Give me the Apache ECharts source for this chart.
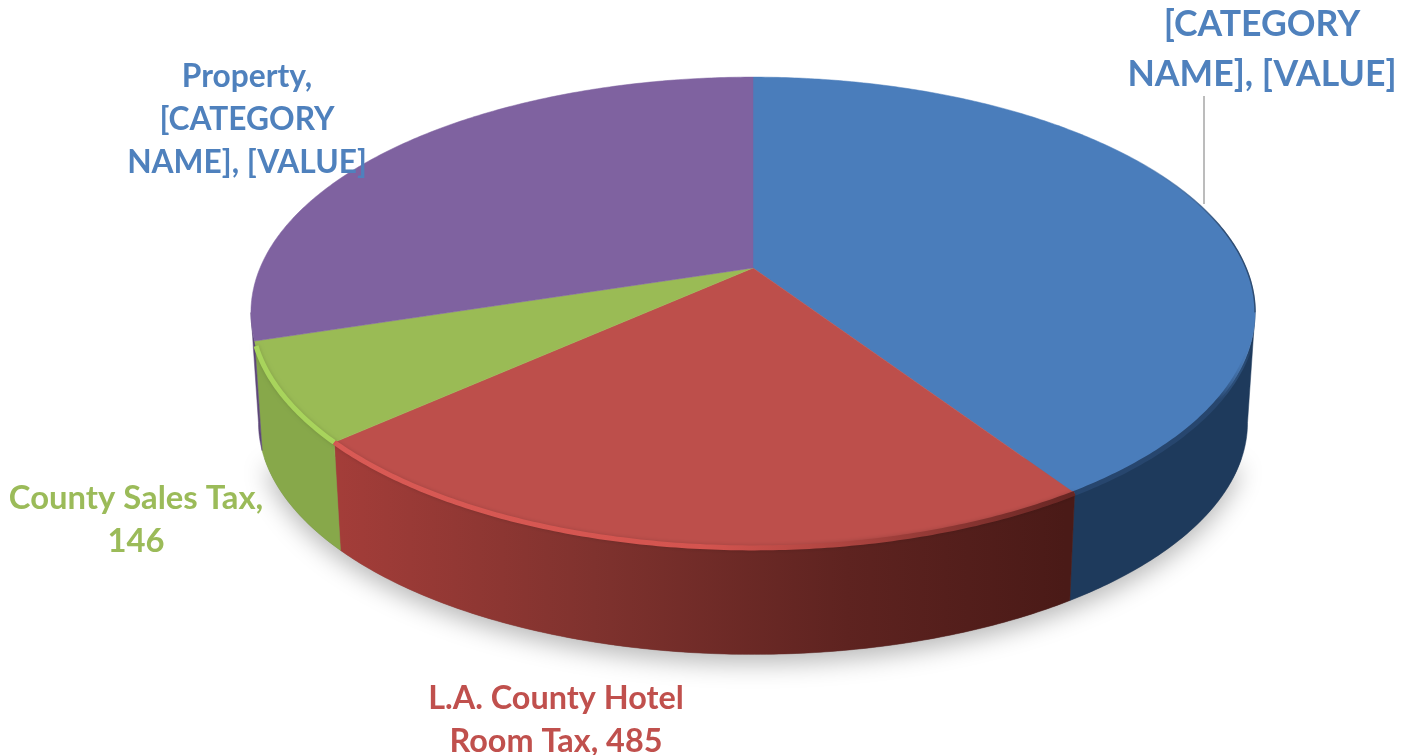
<!DOCTYPE html>
<html>
<head>
<meta charset="utf-8">
<style>
html, body { margin: 0; padding: 0; background: #fff; }
#main { width: 1401px; height: 755px; }
</style>
<script src="https://cdn.jsdelivr.net/npm/echarts@6/dist/echarts.min.js"></script>
</head>
<body>
<div id="main"></div>
<script>
// values (blue and purple)
var categories = ['[CATEGORY NAME]', 'L.A. County Hotel Room Tax', 'County Sales Tax', 'Property'];
var values = [876, 485, 146, 643];
var labelLines = [
    ['[CATEGORY', 'NAME], [VALUE]'],
    ['L.A. County Hotel', 'Room Tax, 485'],
    ['County Sales Tax,', '146'],
    ['Property,', '[CATEGORY', 'NAME], [VALUE]']
];

// colours per slice
var topColors = ['#4a7dbb', '#bd4f4b', '#9abb55', '#7f62a0'];
var labelColors = ['#4f81bd', '#c0504d', '#9bbb59', '#4f81bd'];

// layout of the tilted disc, a circle under a perspective projection
var cx = 753, cy = 268;    // where the slices meet
var scaleX = 493, scaleY = 227, persp = 0.189;
var midY = 312.5, bottomScale = 0.985, depth = 110;

var total = values.reduce(function (a, b) { return a + b; }, 0);

function sliceAngles(i) {
    var sum = 0;
    for (var k = 0; k < i; k++) sum += values[k];
    return [sum / total * Math.PI * 2, (sum + values[i]) / total * Math.PI * 2];
}

// clockwise angle from the far point of the disc -> screen
function rim(t) {
    var w = 1 + persp * Math.cos(t);
    return [cx + scaleX * Math.sin(t) / w, cy - scaleY * Math.cos(t) / w];
}
function rimBottom(t) {
    var p = rim(t);
    return [cx + (p[0] - cx) * bottomScale, midY + (p[1] - midY) * bottomScale + depth];
}
function arc(fn, a, b) {
    var pts = [];
    var n = Math.max(2, Math.ceil(Math.abs(b - a) / 0.01));
    for (var i = 0; i <= n; i++) pts.push(fn(a + (b - a) * i / n));
    return pts;
}

var nearFrom = Math.acos(-persp), nearTo = Math.PI * 2 - nearFrom;

function grad(x1, x2, stops) {
    return new echarts.graphic.LinearGradient(x1, 0, x2, 0, stops, true);
}
// fades in going down the picture, so the edge lines have no hard start
function fadeDown(y1, y2, color) {
    return new echarts.graphic.LinearGradient(0, y1, 0, y2, [
        { offset: 0, color: 'rgba(74,125,187,0)' },
        { offset: 1, color: color }
    ], true);
}
var sideFills = [
    '#1e3a5c',
    grad(340, 1065, [
        { offset: 0, color: '#a33d39' },
        { offset: 0.35, color: '#7f322e' },
        { offset: 0.7, color: '#5e2320' },
        { offset: 1, color: '#4a1a17' }
    ]),
    '#87a84a',
    '#5c4678'
];
var rimStrokes = [
    fadeDown(345, 400, '#27466e'),
    grad(340, 1070, [
        { offset: 0, color: '#d95a55' },
        { offset: 0.5, color: '#d4544f' },
        { offset: 0.75, color: '#a03f3b' },
        { offset: 1, color: '#682623' }
    ]),
    '#a8d45c',
    null
];

var indexData = values.map(function (v, i) { return { name: categories[i], value: v }; });

function nearRange(i) {
    var a = sliceAngles(i);
    var from = Math.max(a[0], nearFrom), to = Math.min(a[1], nearTo);
    return from < to ? [from, to] : null;
}

function renderShadow(params, api) {
    var pts = arc(rimBottom, nearFrom + 0.15, nearTo - 0.15);
    return {
        type: 'polygon',
        shape: { points: pts },
        style: {
            fill: '#777',
            shadowBlur: 24,
            shadowColor: 'rgba(0,0,0,0.28)',
            shadowOffsetY: 9
        }
    };
}

function renderSide(params, api) {
    var r = nearRange(params.dataIndex);
    if (!r) return null;
    var pts = arc(rim, r[0], r[1]).concat(arc(rimBottom, r[1], r[0]));
    var fill = sideFills[params.dataIndex];
    return { type: 'polygon', shape: { points: pts }, style: { fill: fill, stroke: fill, lineWidth: 0.5 } };
}

function renderTop(params, api) {
    var a = sliceAngles(params.dataIndex);
    var pts = [[cx, cy]].concat(arc(rim, a[0], a[1]));
    var c = topColors[params.dataIndex];
    return { type: 'polygon', shape: { points: pts }, style: { fill: c, stroke: c, lineWidth: 0.5 } };
}

function renderRim(params, api) {
    var i = params.dataIndex;
    var r = nearRange(i);
    var children = [];
    // thin dark outline on the far right edge of the blue slice
    if (i === 0) {
        children.push({
            type: 'polyline',
            shape: { points: arc(rim, 0.8, nearFrom) },
            style: { fill: null, stroke: fadeDown(140, 230, '#2f4d73'), lineWidth: 1.5 }
        });
    }
    if (r && rimStrokes[i]) {
        var to = i === 2 ? r[1] - 0.02 : r[1];
        children.push({
            type: 'polyline',
            shape: { points: arc(rim, r[0], to) },
            style: { fill: null, stroke: rimStrokes[i], lineWidth: 5, shadowBlur: i === 0 ? 0 : 4, shadowColor: 'rgba(0,0,0,0.15)' }
        });
    }
    return { type: 'group', children: children };
}

function labelEl(i, x, y, size, lineHeight) {
    return {
        type: 'text',
        x: x,
        y: y,
        z: 20,
        style: {
            text: labelLines[i].join('\n'),
            fill: labelColors[i],
            fontFamily: 'Lato',
            fontWeight: 'bold',
            fontSize: size,
            lineHeight: lineHeight,
            align: 'center',
            verticalAlign: 'top'
        }
    };
}

var myChart = echarts.init(document.getElementById('main'), null, { renderer: 'canvas' });

var option = {
    animation: false,
    backgroundColor: '#fff',
    tooltip: { show: false },
    series: [
        { type: 'custom', coordinateSystem: 'none', z: 1, silent: true, data: [total], renderItem: renderShadow },
        { type: 'custom', coordinateSystem: 'none', z: 2, silent: true, data: indexData, renderItem: renderSide },
        { type: 'custom', coordinateSystem: 'none', z: 3, silent: true, data: indexData, renderItem: renderTop },
        { type: 'custom', coordinateSystem: 'none', z: 4, silent: true, data: indexData, renderItem: renderRim }
    ],
    graphic: [
        labelEl(0, 1262, 0, 35.6, 50),
        labelEl(1, 556, 677, 32.4, 43),
        labelEl(2, 136, 477, 32.8, 43),
        labelEl(3, 247, 55, 31.7, 43),
        {
            type: 'line',
            z: 10,
            shape: { x1: 1204, y1: 96, x2: 1204, y2: 204 },
            style: { stroke: '#a6a6a6', lineWidth: 1.5 }
        }
    ]
};

myChart.setOption(option);
</script>
</body>
</html>
